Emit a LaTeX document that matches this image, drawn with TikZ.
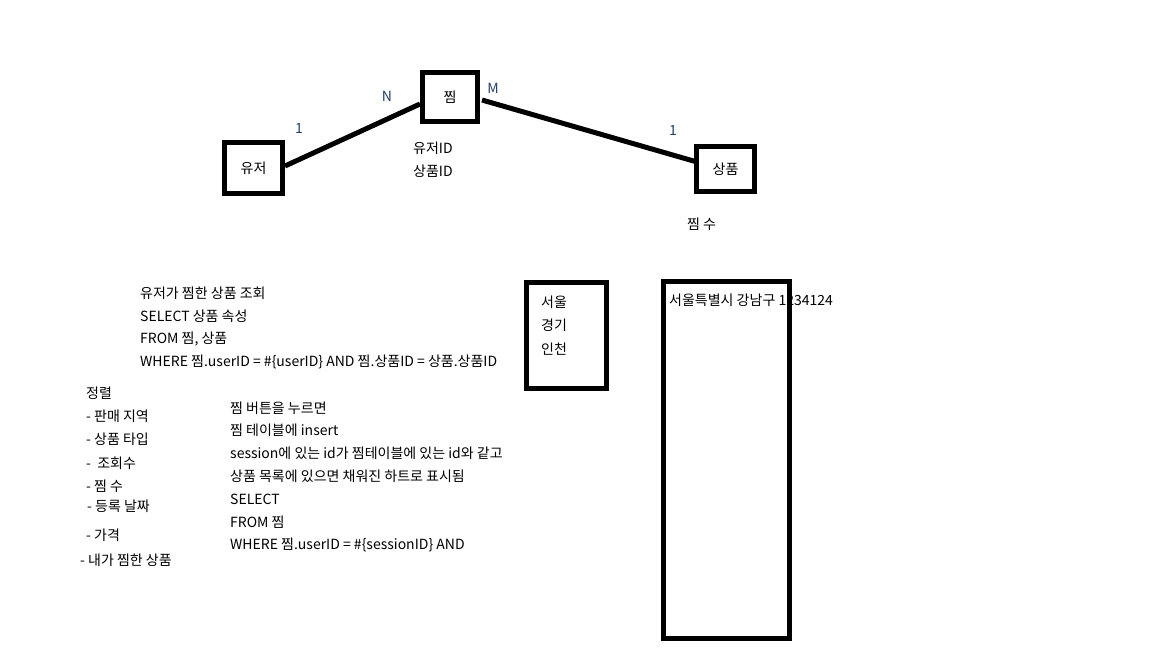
\documentclass[tikz,border=0pt]{standalone}
\usepackage{fontspec}
\setmainfont{Noto Sans CJK KR}
\definecolor{lbl}{HTML}{1F3F6F}
\begin{document}
\begin{tikzpicture}[x=1pt,y=-1pt,
  ent/.style={draw=black,line width=5pt,inner sep=0pt,font=\fontsize{14}{16}\selectfont},
  conn/.style={line width=5pt},
  txt/.style={anchor=west,inner sep=0pt,font=\fontsize{14}{16}\selectfont},
  card/.style={inner sep=0pt,text=lbl,font=\fontsize{14}{16}\selectfont}]
\useasboundingbox[fill=white] (0,0) rectangle (1152,648);
% entities
\node[ent,minimum width=58pt,minimum height=51pt] (user) at (253.5,168) {유저};
\node[ent,minimum width=55pt,minimum height=49pt] (jjim) at (450,97) {찜};
\node[ent,minimum width=58pt,minimum height=45pt] (prod) at (725.5,169) {상품};
% connectors
\draw[conn] ([yshift=2pt]user.east) -- ([yshift=-7pt]jjim.west);
\draw[conn] ([xshift=2pt,yshift=-3pt]jjim.east) -- ([xshift=3pt,yshift=7pt]prod.west);
% cardinalities
\node[card] (c1) at (299,129) {1};
\node[card] (cN) at (387,96) {N};
\node[card] (cM) at (493,88) {M};
\node[card] (c2) at (673,131) {1};
% attributes
\node[txt] (a1) at (413,148) {유저ID};
\node[txt] (a2) at (413,171) {상품ID};
\node[txt] (a3) at (687,224) {찜 수};
% query block
\node[txt] (q1) at (140,293) {유저가 찜한 상품 조회};
\node[txt] (q2) at (140,316) {SELECT 상품 속성};
\node[txt] (q3) at (140,339) {FROM 찜, 상품};
\node[txt] (q4) at (140,362) {WHERE 찜.userID = \#\{userID\} AND 찜.상품ID = 상품.상품ID};
% region box
\node[ent,minimum width=80pt,minimum height=106pt] (region) at (566.5,335.5) {};
\node[txt] (r1) at (541,302) {서울};
\node[txt] (r2) at (541,325) {경기};
\node[txt] (r3) at (541,349) {인천};
% address box
\node[ent,minimum width=126pt,minimum height=357pt] (addr) at (726.5,460) {};
\node[txt] (ad) at (669,300) {서울특별시 강남구 1234124};
% sort list
\node[txt] (s0) at (86,393) {정렬};
\node[txt] (s1) at (86,416) {- 판매 지역};
\node[txt] (s2) at (86,439) {- 상품 타입};
\node[txt] (s3) at (86,463) {-\ \ 조회수};
\node[txt] (s4) at (86,486) {- 찜 수};
\node[txt] (s5) at (87,506) {- 등록 날짜};
\node[txt] (s6) at (86,535) {- 가격};
\node[txt] (s7) at (80,560) {- 내가 찜한 상품};
% notes
\node[txt] (n1) at (230,408) {찜 버튼을 누르면};
\node[txt] (n2) at (230,430) {찜 테이블에 insert};
\node[txt] (n3) at (230,453) {session에 있는 id가 찜테이블에 있는 id와 같고};
\node[txt] (n4) at (230,476) {상품 목록에 있으면 채워진 하트로 표시됨};
\node[txt] (n5) at (230,499) {SELECT};
\node[txt] (n6) at (230,522) {FROM 찜};
\node[txt] (n7) at (230,545) {WHERE 찜.userID = \#\{sessionID\} AND};
\end{tikzpicture}
\end{document}
